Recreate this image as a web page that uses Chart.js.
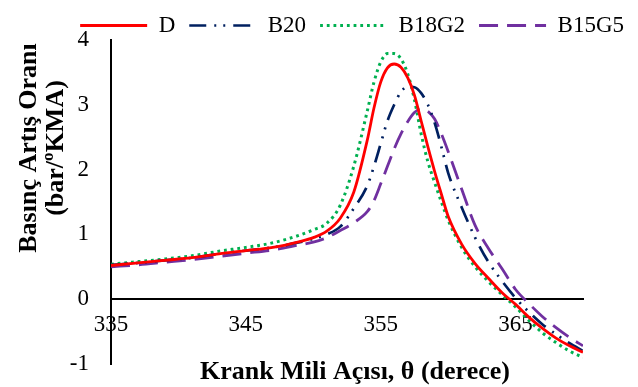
<!DOCTYPE html>
<html>
<head>
<meta charset="utf-8">
<script src="https://cdn.jsdelivr.net/npm/chart.js@4.4.1/dist/chart.umd.min.js"></script>
<style>
  html, body { margin: 0; padding: 0; background: #fff; }
</style>
</head>
<body>
<canvas id="rateChart" width="638" height="387"></canvas>
<script>
// crank angle (degrees) shared by all series
const angles = [335, 337, 339, 341, 343, 345, 347, 349, 350, 351, 352, 353, 354, 354.5, 355, 355.5,
  356, 356.5, 357, 357.5, 358, 358.5, 359, 359.5, 360, 361, 362, 363, 364, 365, 366, 367, 368, 369, 370];

const seriesD = [0.52, 0.56, 0.60, 0.64, 0.70, 0.75, 0.80, 0.89, 0.95, 1.05, 1.25, 1.65, 2.45, 2.95, 3.35, 3.57,
  3.63, 3.58, 3.42, 3.15, 2.75, 2.35, 1.97, 1.62, 1.28, 0.85, 0.55, 0.32, 0.10, -0.08, -0.28, -0.45, -0.60, -0.72, -0.82];

const seriesB20 = [0.53, 0.56, 0.60, 0.64, 0.70, 0.75, 0.80, 0.88, 0.93, 1.00, 1.12, 1.40, 1.75, 2.05, 2.40, 2.75,
  3.00, 3.20, 3.28, 3.27, 3.18, 3.00, 2.72, 2.35, 1.95, 1.42, 0.95, 0.57, 0.28, 0.02, -0.20, -0.39, -0.54, -0.68, -0.80];

const seriesB18G2 = [0.54, 0.58, 0.62, 0.67, 0.74, 0.80, 0.87, 0.99, 1.07, 1.17, 1.45, 2.05, 2.90, 3.35, 3.66, 3.79,
  3.79, 3.71, 3.48, 3.08, 2.55, 2.12, 1.80, 1.50, 1.22, 0.80, 0.50, 0.27, 0.07, -0.12, -0.33, -0.52, -0.67, -0.80, -0.90];

const seriesB15G5 = [0.50, 0.53, 0.57, 0.61, 0.66, 0.71, 0.76, 0.84, 0.88, 0.95, 1.06, 1.18, 1.35, 1.52, 1.78, 2.05,
  2.32, 2.55, 2.74, 2.88, 2.94, 2.90, 2.78, 2.55, 2.28, 1.70, 1.14, 0.78, 0.47, 0.15, -0.07, -0.27, -0.44, -0.59, -0.72];

const seriesNames = ['D', 'B20', 'B18G2', 'B15G5'];
const xTicks = [335, 345, 355, 365];
const xTitle = 'Krank Mili Açısı, θ (derece)';
const yTitle = ['Basınç Artış Oranı', '(bar/ºKMA)'];

const FONT = '"Liberation Serif", "Times New Roman", serif';

function points(values) {
  return angles.map((a, i) => ({ x: a, y: values[i] }));
}

// axis titles drawn by hand so they sit where the original has them
const axisTitles = {
  id: 'axisTitles',
  afterDraw(chart) {
    const ctx = chart.ctx;
    ctx.save();
    ctx.fillStyle = '#000';
    ctx.font = 'bold 26px ' + FONT;
    ctx.textAlign = 'center';
    ctx.textBaseline = 'alphabetic';
    ctx.fillText(xTitle, 355, 379);
    ctx.translate(36, 148);
    ctx.rotate(-Math.PI / 2);
    ctx.fillText(yTitle[0], 0, 0);
    ctx.fillText(yTitle[1], 0, 27);
    ctx.restore();
  }
};

const ctx = document.getElementById('rateChart').getContext('2d');
new Chart(ctx, {
  type: 'line',
  data: {
    datasets: [
      {
        label: seriesNames[0],
        data: points(seriesD),
        borderColor: '#ff0000',
        borderWidth: 2.8
      },
      {
        label: seriesNames[1],
        data: points(seriesB20),
        borderColor: '#002060',
        borderWidth: 2.7,
        borderDash: [17, 8, 2, 7, 2, 8]
      },
      {
        label: seriesNames[2],
        data: points(seriesB18G2),
        borderColor: '#00b050',
        borderWidth: 3,
        borderDash: [2.8, 3.9]
      },
      {
        label: seriesNames[3],
        data: points(seriesB15G5),
        borderColor: '#7030a0',
        borderWidth: 2.8,
        borderDash: [19, 9]
      }
    ]
  },
  options: {
    responsive: false,
    animation: false,
    devicePixelRatio: 1,
    elements: {
      point: { radius: 0 },
      line: { cubicInterpolationMode: 'monotone', fill: false }
    },
    layout: { padding: { left: 0, right: 0, top: 0, bottom: 23 } },
    plugins: {
      tooltip: { enabled: false },
      legend: {
        position: 'top',
        align: 'end',
        maxHeight: 40,
        labels: {
          usePointStyle: true,
          pointStyle: 'line',
          pointStyleWidth: 67,
          padding: 14,
          color: '#000',
          font: { family: FONT, size: 23 },
          generateLabels: chart => chart.data.datasets.map((ds, i) => ({
            text: ds.label,
            datasetIndex: i,
            hidden: false,
            pointStyle: 'line',
            strokeStyle: ds.borderColor,
            fillStyle: ds.borderColor,
            fontColor: '#000',
            lineWidth: ds.borderWidth,
            lineDash: ds.borderDash || [],
            lineCap: 'butt'
          }))
        }
      }
    },
    scales: {
      x: {
        type: 'linear',
        min: 335,
        max: 370,
        position: { y: 0 },
        afterBuildTicks: scale => {
          scale.ticks = xTicks.map(v => ({ value: v }));
        },
        grid: { display: false, drawTicks: false },
        border: { display: true, color: '#000', width: 2 },
        ticks: {
          padding: 12,
          color: '#000',
          font: { family: FONT, size: 23 }
        }
      },
      y: {
        min: -1,
        max: 4,
        position: 'left',
        afterFit: scale => { scale.width = 111; },
        // invisible tick length keeps the labels away from the axis line
        grid: { display: false, drawTicks: true, tickLength: 20 },
        border: { display: true, color: '#000', width: 2 },
        ticks: {
          stepSize: 1,
          padding: 2,
          color: '#000',
          font: { family: FONT, size: 23 }
        }
      },
      // empty right axis that only reserves the white margin on the right
      yRight: {
        position: 'right',
        afterFit: scale => { scale.width = 55; },
        grid: { display: false, drawTicks: false },
        border: { display: false },
        ticks: { display: false }
      }
    }
  },
  plugins: [axisTitles]
});
</script>
</body>
</html>
